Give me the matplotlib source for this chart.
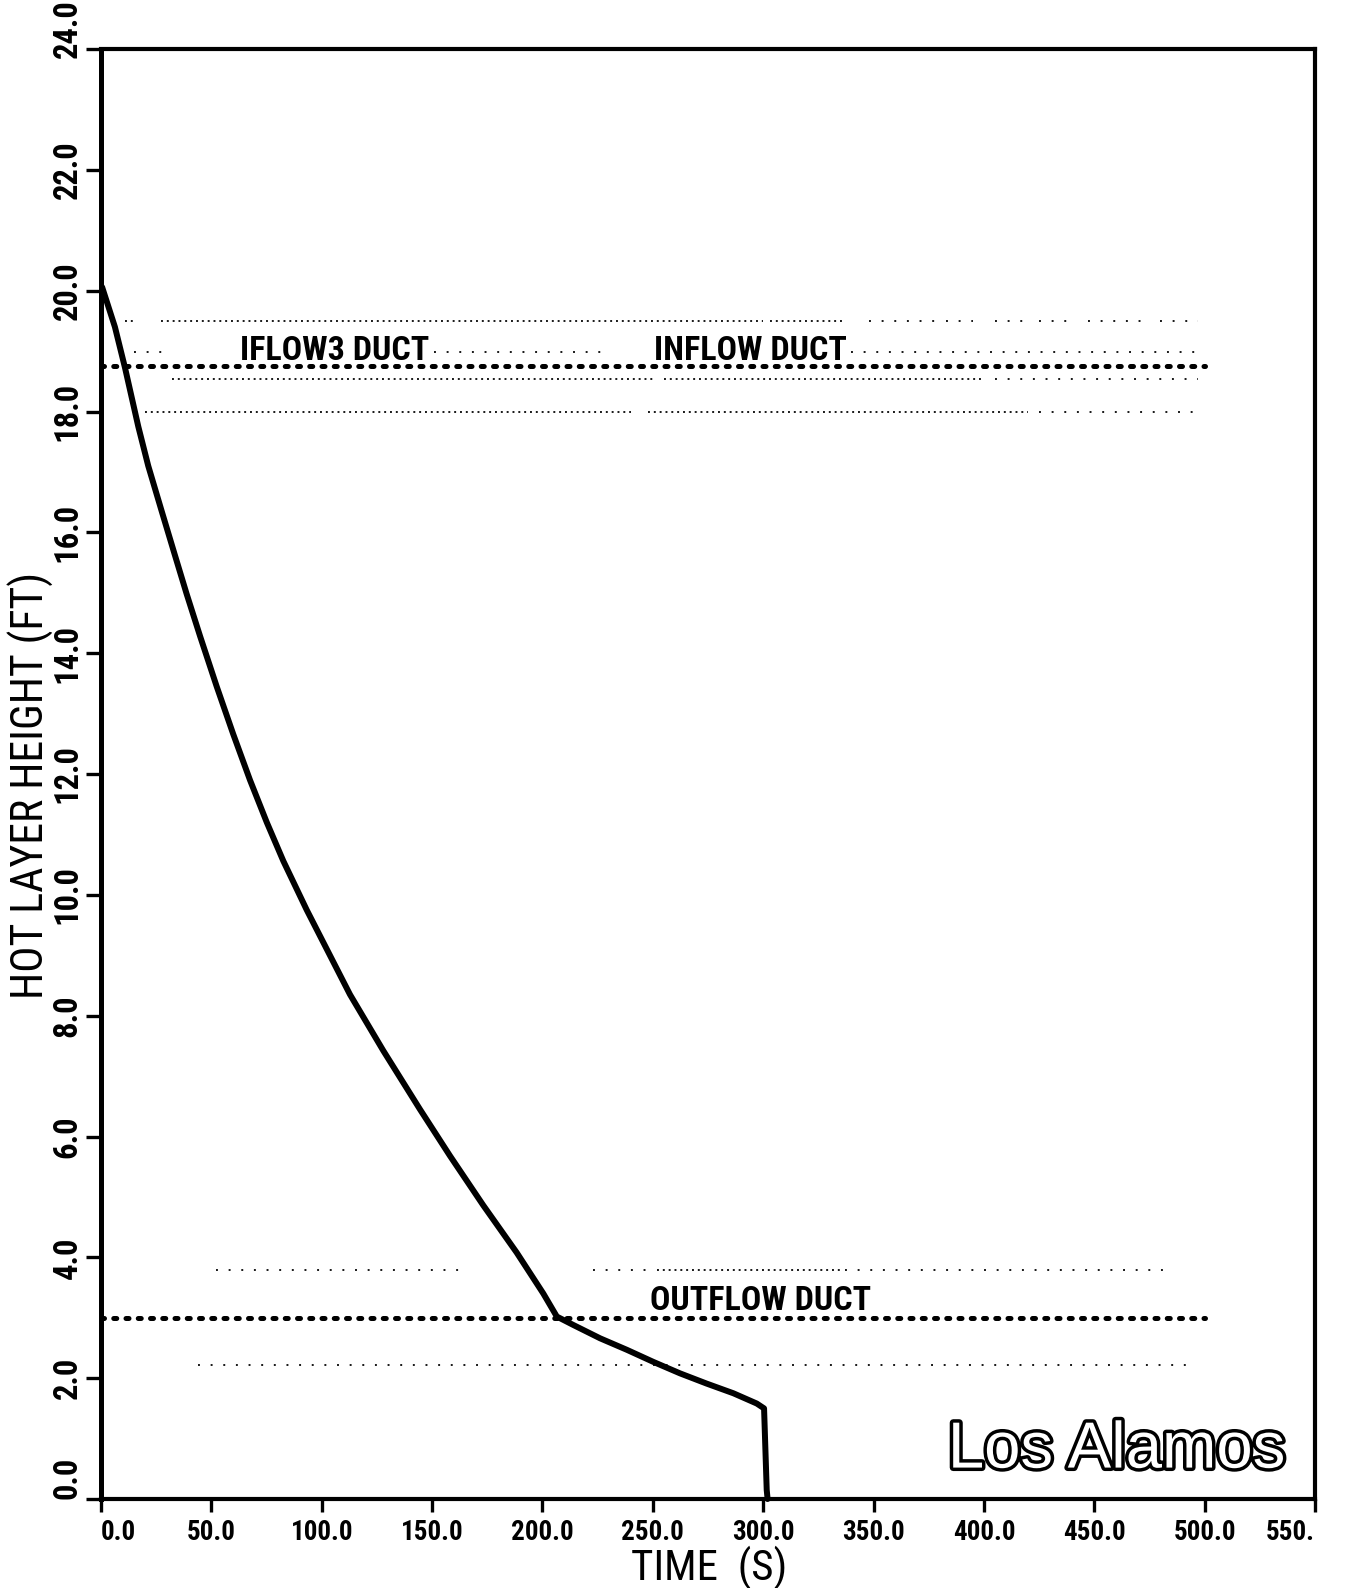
import matplotlib
matplotlib.use('Agg')
import matplotlib.pyplot as plt
import matplotlib.patheffects as pe
from matplotlib import font_manager
from matplotlib.transforms import ScaledTranslation

# ---------------- data ----------------
time_s = [0.5, 6.3, 10.9, 16.9, 21.4, 27.5, 33.5, 38.8, 44.9, 52.4, 59.9,
          67.5, 75.1, 82.6, 93.2, 112.8, 127.9, 144.5, 158.1, 173.2, 188.3,
          200.4, 206.5, 214.0, 226.1, 238.2, 250.2, 262.3, 274.4, 286.5,
          297.1, 300.4, 301.6, 302.0]
height_ft = [20.06, 19.4, 18.72, 17.75, 17.1, 16.35, 15.62, 14.98, 14.28,
             13.45, 12.66, 11.9, 11.2, 10.56, 9.75, 8.35, 7.42, 6.45, 5.68,
             4.86, 4.08, 3.40, 3.02, 2.88, 2.66, 2.47, 2.27, 2.08, 1.91, 1.75,
             1.58, 1.50, 0.15, 0.0]

duct_line_heights = [18.75, 3.0]
duct_line_span = [0, 500]
duct_names = ['IFLOW3 DUCT', 'INFLOW DUCT', 'OUTFLOW DUCT']
duct_label_x = [106, 294, 299]
duct_label_y = [18.85, 18.85, 3.12]

# faint dotted guide rows: height -> list of (start, end, sparse?)
guide_heights = [19.5, 18.98, 18.54, 18.0, 3.79, 2.22]
guide_segments = [
    [(10.7, 15, 0), (27, 300, 0), (303, 337, 0), (348, 378, 1), (383, 395, 1),
     (405, 420, 1), (425, 440, 1), (447, 475, 1), (480, 497, 1)],
    [(15, 30, 1), (151, 229, 1), (340, 499, 1)],
    [(32, 250, 0), (255, 400, 0), (405, 497, 1)],
    [(20, 240, 0), (248, 420, 0), (425, 499, 1)],
    [(52, 165, 1), (223, 250, 1), (252, 335, 0), (337, 482, 1)],
    [(44, 496, 1)],
]

x_ticks = [0, 50, 100, 150, 200, 250, 300, 350, 400, 450, 500, 550]
x_tick_labels = ['0.0', '50.0', '100.0', '150.0', '200.0', '250.0', '300.0',
                 '350.0', '400.0', '450.0', '500.0', '550.']
y_ticks = [0, 2, 4, 6, 8, 10, 12, 14, 16, 18, 20, 22, 24]
y_tick_labels = ['0.0', '2.0', '4.0', '6.0', '8.0', '10.0', '12.0', '14.0',
                 '16.0', '18.0', '20.0', '22.0', '24.0']

# ---------------- fonts ----------------
avail = {f.name for f in font_manager.fontManager.ttflist}
COND = [n for n in ['Roboto Condensed', 'Barlow Condensed'] if n in avail] + ['DejaVu Sans']
SANS = [n for n in ['Liberation Sans', 'DejaVu Sans'] if n in avail] + ['DejaVu Sans']

W, H = 1352, 1588
fig = plt.figure(figsize=(W / 100, H / 100), dpi=100)
L, R, T, B = 101, 1315, 49, 1499
ax = fig.add_axes([L / W, 1 - B / H, (R - L) / W, (B - T) / H])
ax.set_xlim(0, 550)
ax.set_ylim(0, 24)

# faint guide rows
for h, segs in zip(guide_heights, guide_segments):
    for s, e, sparse in segs:
        ax.plot([s, e], [h, h], color='black', lw=1.4,
                dashes=(1.0, 5.5) if sparse else (1.0, 2.0), alpha=0.9)

# heavy duct lines
for h in duct_line_heights:
    ax.plot(duct_line_span, [h, h], color='black', lw=3.6,
            dashes=(0.6, 1.85), dash_capstyle='round')

# main curve
ax.plot(time_s, height_ft, color='black', lw=4.3, solid_joinstyle='round',
        solid_capstyle='round', clip_on=False, zorder=5)

# duct labels
for name, x, y in zip(duct_names, duct_label_x, duct_label_y):
    ax.text(x, y, name, ha='center', va='baseline', fontsize=24.5,
            fontweight='bold', family=COND)

# Los Alamos outline text
ax.text(460, 0.52, 'Los Alamos', ha='center', va='baseline', fontsize=47,
        family=SANS, color='white',
        path_effects=[pe.withStroke(linewidth=5, foreground='black')])

# spines & ticks
for side in ['right', 'top', 'bottom']:
    ax.spines[side].set_linewidth(3.0)
ax.spines['left'].set_linewidth(3.6)
ax.set_xticks(x_ticks, x_tick_labels)
ax.set_yticks(y_ticks, y_tick_labels)
ax.tick_params(axis='x', direction='out', length=9.5, width=2.4, pad=5,
               labelsize=19.5)
ax.tick_params(axis='y', direction='out', length=10.5, width=2.4, pad=2,
               labelsize=23.5)
xl = ax.get_xticklabels()
for lab in xl:
    lab.set_fontweight('bold')
    lab.set_family(COND)
xl[0].set_ha('left')
xl[-1].set_ha('right')
yl = ax.get_yticklabels()
for lab in yl:
    lab.set_fontweight('bold')
    lab.set_family(COND)
    lab.set_rotation(90)
    lab.set_va('center')
yl[0].set_va('bottom')
yl[-1].set_transform(yl[-1].get_transform() +
                     ScaledTranslation(0, 0.20, fig.dpi_scale_trans))

fig.text(709 / W, 1 - 1546 / H, 'TIME  (S)', ha='center', va='top',
         fontsize=31, family=COND)
fig.text(31 / W, 1 - 785 / H, 'HOT LAYER HEIGHT (FT)', ha='center',
         va='center', rotation=90, fontsize=31.5, family=COND)

fig.savefig('out.png', dpi=100, facecolor='white')
